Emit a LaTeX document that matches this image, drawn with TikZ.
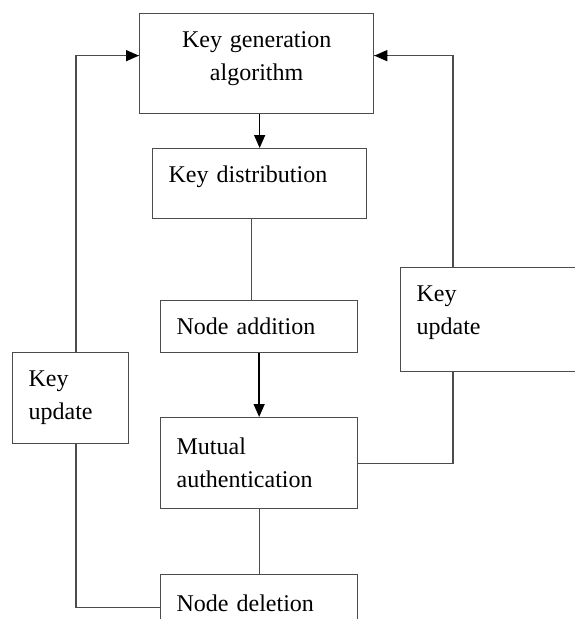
\documentclass[tikz,border=0pt]{standalone}
\usepackage{fontspec}
\setmainfont{Liberation Serif}
\usetikzlibrary{arrows.meta}
\tikzset{
  box/.style={draw=black!70,line width=1.3pt,anchor=north west,inner ysep=0pt,inner xsep=16pt,
    align=left,font=\fontsize{24}{33}\selectfont},
  link/.style={draw=black!70,line width=1.3pt},
  flow/.style={line width=1.4pt,-{Triangle[length=13pt,width=11pt]}}
}
\begin{document}
\begin{tikzpicture}[x=1pt,y=-1pt]
        \useasboundingbox (0,0) rectangle (575,619);
        \node[box,align=center,minimum width=234pt,minimum height=100pt,text width=202pt,text depth=49pt](gen)at(139,13){Key generation\\algorithm};
        \node[box,minimum width=214pt,minimum height=70pt,text width=182pt,text depth=19pt](dist)at(152,148){Key distribution};
        \node[box,minimum width=197pt,minimum height=52pt,text width=165pt](add)at(160,300){Node addition};
        \node[box,minimum width=197pt,minimum height=91pt,text width=165pt](mut)at(160,417){Mutual\\authentication};
        \node[box,minimum width=197pt,minimum height=58pt,text width=165pt](del)at(160,574){Node deletion};
        \node[box,minimum width=116pt,minimum height=91pt,text width=84pt](kul)at(12,352){Key\\update};
        \node[box,minimum width=190pt,minimum height=104pt,text width=158pt,text depth=53pt](kur)at(400,267){Key\\update};
        \coordinate (lx) at (76,0);
        \coordinate (rx) at (453,0);
        %main chain
        \draw[flow](gen.south -| dist.north)--(dist.north);
        \draw[link]([xshift=-8pt]dist.south)--([xshift=-8pt]dist.south |- add.north);
        \draw[flow](add.south)--(mut.north);
        \draw[link](mut.south)--(del.north);
        %update loops
        \draw[link]([yshift=-4pt]del.west)-|(lx |- kul.south);
        \draw[link](lx |- kul.north)|-([yshift=8pt]gen.west);
        \draw[flow]([xshift=-13pt,yshift=8pt]gen.west)--([yshift=8pt]gen.west);
        \draw[link](mut.east)-|(rx |- kur.south);
        \draw[link](rx |- kur.north)|-([yshift=8pt]gen.east);
        \draw[flow]([xshift=13pt,yshift=8pt]gen.east)--([yshift=8pt]gen.east);
    \end{tikzpicture}
\end{document}
